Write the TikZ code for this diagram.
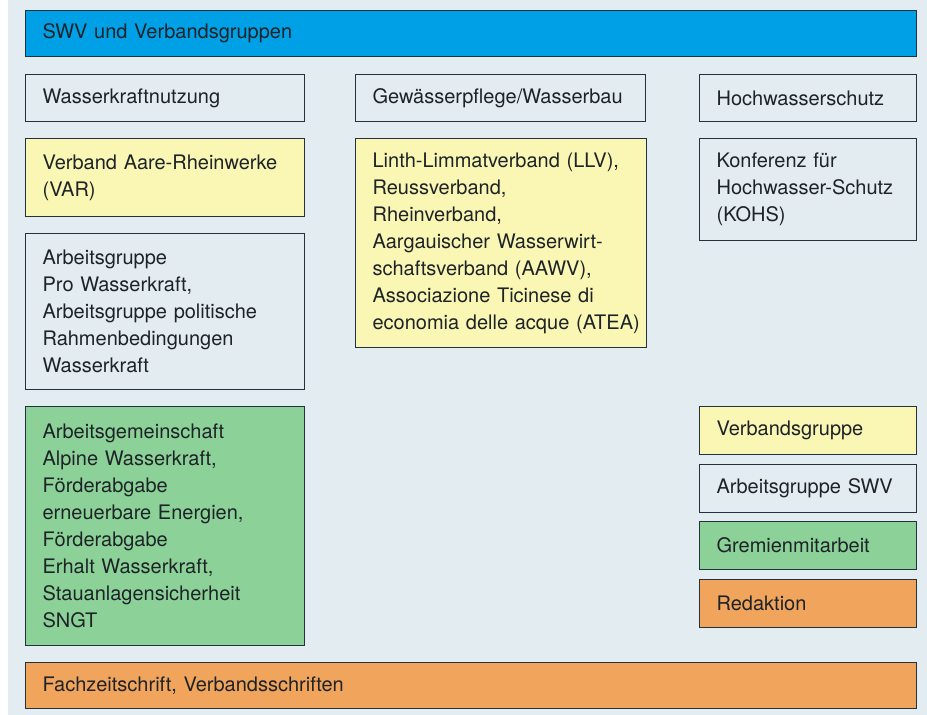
\documentclass[tikz,border=0pt]{standalone}
\usepackage{fontspec}
\setmainfont{TeX Gyre Heros}
\definecolor{bgc}{RGB}{226,236,241}
\definecolor{bluec}{RGB}{0,160,230}
\definecolor{yellowc}{RGB}{250,246,180}
\definecolor{greenc}{RGB}{140,210,152}
\definecolor{orangec}{RGB}{240,164,92}
\definecolor{linec}{RGB}{35,50,60}
\definecolor{textc}{RGB}{30,35,40}
\tikzset{
  box/.style={draw=linec, line width=1.2pt, anchor=north west, inner xsep=16pt, inner ysep=0pt,
    align=left, text=textc, font=\fontsize{20}{27}\selectfont},
  plain/.style={box, fill=bgc},
  yel/.style={box, fill=yellowc},
  grn/.style={box, fill=greenc},
  org/.style={box, fill=orangec},
  blu/.style={box, fill=bluec},
}
\begin{document}
\begin{tikzpicture}[x=1pt,y=-1pt]
\useasboundingbox (0,0) rectangle (927,715);
\fill[white] (0,0) rectangle (927,715);
\fill[bgc] (8,0) rectangle (927,715);
% top bar
\node[blu, minimum width=891pt, minimum height=46pt, text width=857pt] (top) at (25,10) {SWV und Verbandsgruppen};
% column heads
\node[plain, minimum width=279pt, minimum height=47pt, text width=245pt] (wkn) at (25,74) {Wasserkraftnutzung};
\node[plain, minimum width=290pt, minimum height=47pt, text width=256pt] (gpw) at (355,74) {Gewässerpflege/Wasserbau};
\node[plain, minimum width=217pt, minimum height=47pt, text width=183pt] (hws) at (699,74) {Hochwasserschutz};
% column 1
\node[yel, minimum width=279pt, minimum height=78pt, text width=245pt] (var) at (25,138) {Verband Aare-Rheinwerke\\(VAR)};
\node[plain, minimum width=279pt, minimum height=156pt, text width=245pt] (agp) at (25,233) {Arbeitsgruppe\\Pro Wasserkraft,\\Arbeitsgruppe politische\\Rahmenbedingungen\\Wasserkraft};
\node[grn, minimum width=279pt, minimum height=239pt, text width=245pt] (agw) at (25,406) {Arbeitsgemeinschaft\\Alpine Wasserkraft,\\Förderabgabe\\erneuerbare Energien,\\Förderabgabe\\Erhalt Wasserkraft,\\Stauanlagensicherheit\\SNGT};
% column 2
\node[yel, minimum width=291pt, minimum height=209pt, text width=257pt] (llv) at (355,138) {\mbox{Linth-Limmatverband (LLV),}\\Reussverband,\\Rheinverband,\\\mbox{Aargauischer Wasserwirt-}\\\mbox{schaftsverband (AAWV),}\\\mbox{Associazione Ticinese di}\\\mbox{economia delle acque (ATEA)}};
% column 3
\node[plain, minimum width=217pt, minimum height=102pt, text width=183pt] (kohs) at (699,138) {Konferenz für\\Hochwasser-Schutz\\(KOHS)};
% legend
\node[yel, minimum width=217pt, minimum height=48pt, text width=183pt] (lg1) at (699,406) {Verbandsgruppe};
\node[plain, minimum width=217pt, minimum height=48pt, text width=183pt] (lg2) at (699,464) {Arbeitsgruppe SWV};
\node[grn, minimum width=217pt, minimum height=48pt, text width=183pt] (lg3) at (699,521) {Gremienmitarbeit};
\node[org, minimum width=217pt, minimum height=48pt, text width=183pt] (lg4) at (699,579) {Redaktion};
% bottom bar
\node[org, minimum width=891pt, minimum height=46pt, text width=857pt] (bot) at (25,662) {Fachzeitschrift, Verbandsschriften};
\end{tikzpicture}
\end{document}
